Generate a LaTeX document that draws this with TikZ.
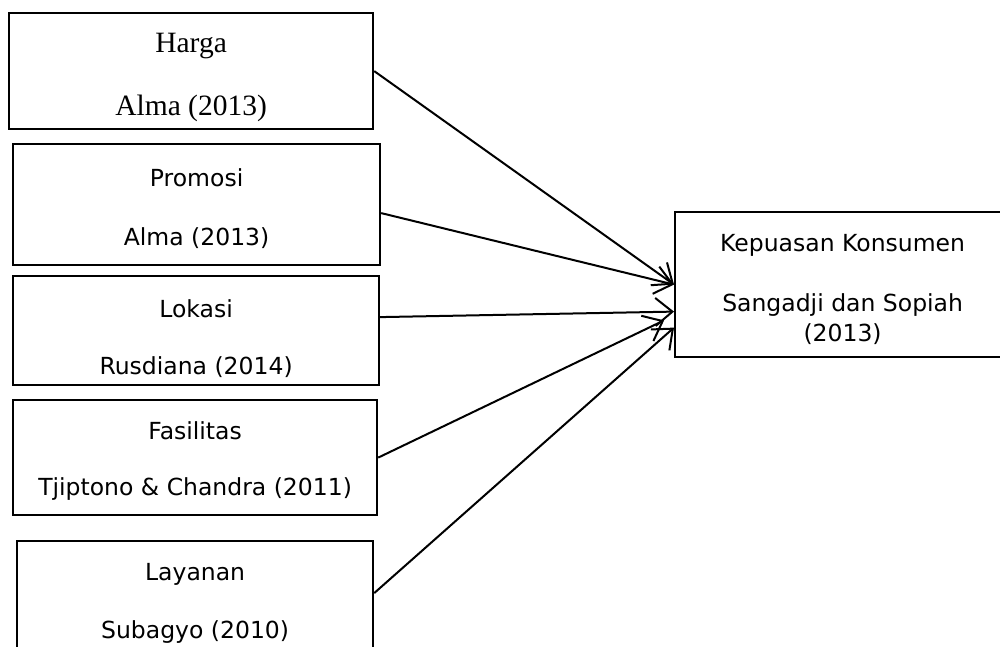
\documentclass[tikz,border=0pt]{standalone}
\usepackage{fontspec}
\setmainfont{Liberation Serif}
\newfontfamily\boxfont{DejaVu Sans}
\usetikzlibrary{arrows.meta}

\newcommand{\topgap}[1]{\rule{0pt}{#1}}

\tikzset{
  varbox/.style={draw, line width=2.2pt, anchor=north west, inner sep=0pt,
    align=center, font=\boxfont\fontsize{23.5}{28}\selectfont},
  infl/.style={line width=2pt,
    -{Straight Barb[length=17pt, width=28pt, line width=2pt]}}
}

\begin{document}
\begin{tikzpicture}[x=1pt, y=-1pt]
\useasboundingbox (0,0) rectangle (1000,646);
% independent variables
\node[varbox, minimum width=364pt, minimum height=116pt,
  font=\rmfamily\fontsize{29.5}{34}\selectfont] (harga) at (8,12) {\topgap{32pt}Harga\\[29pt]Alma (2013)};
\node[varbox, minimum width=367pt, minimum height=121pt] (promosi) at (12,143) {\topgap{26pt}Promosi\\[31pt]Alma (2013)};
\node[varbox, minimum width=366pt, minimum height=109pt] (lokasi) at (12,275) {\topgap{34pt}Lokasi\\[29pt]Rusdiana (2014)};
\node[varbox, minimum width=364pt, minimum height=115pt] (fasilitas) at (12,399) {\topgap{25pt}Fasilitas\\[28pt]Tjiptono \& Chandra (2011)};
\node[varbox, minimum width=356pt, minimum height=116pt] (layanan) at (16,540) {\topgap{26pt}Layanan\\[30pt]Subagyo (2010)};
% dependent variable
\node[varbox, minimum width=335pt, minimum height=145pt,
  font=\boxfont\fontsize{23.5}{30}\selectfont] (kepuasan) at (674,211) {\topgap{26pt}Kepuasan Konsumen\\[30pt]Sangadji dan Sopiah\\(2013)};
% arrows
\draw[infl] (harga.east) -- (kepuasan.west);
\draw[infl] ([yshift=-8.5pt]promosi.east) -- (kepuasan.west);
\draw[infl] ([yshift=13.5pt]lokasi.east) -- ([yshift=-27pt]kepuasan.west);
\draw[infl, shorten >=11pt] (fasilitas.east) -- ([yshift=-31pt]kepuasan.west);
\draw[infl] ([yshift=6pt]layanan.east) -- ([yshift=-43pt]kepuasan.west);
\end{tikzpicture}
\end{document}
